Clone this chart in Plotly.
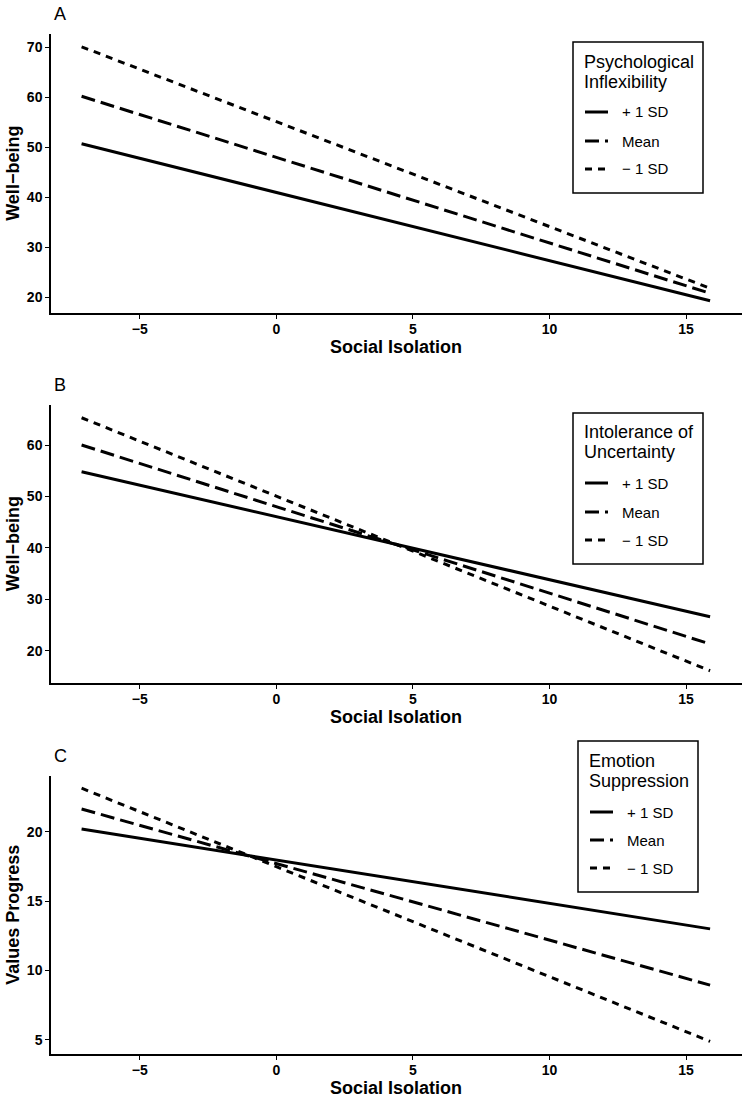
import plotly.graph_objects as go

# ---- data ----
social_isolation = [-7.13, 15.88]

a_plus = [50.7, 19.3]
a_mean = [60.2, 20.8]
a_minus = [70.1, 21.8]

b_plus = [54.8, 26.6]
b_mean = [60.0, 21.3]
b_minus = [65.3, 16.1]

c_plus = [20.19, 13.0]
c_mean = [21.63, 8.95]
c_minus = [23.13, 4.9]

series_names = ["+ 1 SD", "Mean", "\u2212 1 SD"]
panel_letters = ["A", "B", "C"]
legend_titles = [["Psychological", "Inflexibility"], ["Intolerance of", "Uncertainty"], ["Emotion", "Suppression"]]
y_titles = ["Well\u2212being", "Well\u2212being", "Values Progress"]
x_title = "Social Isolation"
x_ticks = [-5, 0, 5, 10, 15]
y_ticks = [[20, 30, 40, 50, 60, 70], [20, 30, 40, 50, 60], [5, 10, 15, 20]]

# ---- layout geometry (pixels) ----
W, H = 747, 1100
FONT = "Liberation Sans, Arial, Helvetica, sans-serif"
x_left, x_right = 51, 741.5
panels_px = [(34.3, 313.3), (405.0, 683.3), (775.7, 1054.0)]
y_ranges = [[16.8, 72.6], [13.66, 67.78], [3.99, 24.03]]
x_range = [-8.25, 17.03]

# legend boxes: (left, right, top, bottom, title line1 y, title line2 y, item ys, key x0, key x1, text x)
legend_geo = [
    (573, 703, 42, 193, 62, 82, [112, 141, 169], 585, 608, 620),
    (573, 703, 413, 564, 432, 452, [483, 512, 540], 585, 608, 620),
    (578, 698, 741, 892, 761, 781, [812, 840, 868], 590, 613, 625),
]

dashes = ["solid", "14px,6px", "7px,6px"]

fig = go.Figure()
data = [[a_plus, a_mean, a_minus], [b_plus, b_mean, b_minus], [c_plus, c_mean, c_minus]]

for p in range(3):
    sfx = "" if p == 0 else str(p + 1)
    for s in range(3):
        fig.add_trace(go.Scatter(
            x=social_isolation, y=data[p][s], mode="lines",
            name=series_names[s],
            line=dict(color="black", width=3, dash=dashes[s]),
            xaxis="x" + sfx, yaxis="y" + sfx,
            showlegend=False,
        ))

axis_common = dict(showline=True, linecolor="black", linewidth=1.5, showgrid=False,
                   zeroline=False, ticks="outside", ticklen=4, tickwidth=1, tickcolor="black",
                   tickfont=dict(family=FONT, size=14, color="black", weight="bold"))

layout = dict(width=W, height=H, margin=dict(l=0, r=0, t=0, b=0),
              paper_bgcolor="white", plot_bgcolor="white", showlegend=False,
              font=dict(family=FONT, color="black"))


def px_x(v):
    return v / W


def px_y(v):
    return 1 - v / H


annotations = []
shapes = []
for p in range(3):
    sfx = "" if p == 0 else str(p + 1)
    top, bot = panels_px[p]
    dom_y = [px_y(bot), px_y(top)]
    layout["xaxis" + sfx] = dict(axis_common, domain=[px_x(x_left), px_x(x_right)], range=x_range,
                                 tickvals=x_ticks, anchor="y" + sfx, ticklabelstandoff=-2)
    layout["yaxis" + sfx] = dict(axis_common, domain=dom_y, range=y_ranges[p],
                                 tickvals=y_ticks[p], anchor="x" + sfx)
    # panel letter
    annotations.append(dict(text=panel_letters[p], x=px_x(52), y=px_y(top - 20),
                            xref="paper", yref="paper", xanchor="left", yanchor="middle",
                            showarrow=False, font=dict(family=FONT, size=18, color="black")))
    # x title
    annotations.append(dict(text=x_title, x=px_x((x_left + x_right) / 2), y=px_y(bot + 34),
                            xref="paper", yref="paper", xanchor="center", yanchor="middle",
                            showarrow=False,
                            font=dict(family=FONT, size=18, color="black", weight="bold")))
    # y title
    annotations.append(dict(text=y_titles[p], x=px_x(13), y=px_y((top + bot) / 2),
                            xref="paper", yref="paper", xanchor="center", yanchor="middle",
                            textangle=-90, showarrow=False,
                            font=dict(family=FONT, size=18, color="black", weight="bold")))
    # legend
    lft, rgt, ltop, lbot, t1, t2, item_ys, k0, k1, tx = legend_geo[p]
    shapes.append(dict(type="rect", xref="paper", yref="paper",
                       x0=px_x(lft), x1=px_x(rgt), y0=px_y(lbot), y1=px_y(ltop),
                       line=dict(color="black", width=1.5), fillcolor="white", layer="above"))
    for ty, txt in zip([t1, t2], legend_titles[p]):
        annotations.append(dict(text=txt, x=px_x(lft + 9), y=px_y(ty), xref="paper", yref="paper",
                                xanchor="left", yanchor="middle", showarrow=False,
                                font=dict(family=FONT, size=18, color="black")))
    for s in range(3):
        shapes.append(dict(type="line", xref="paper", yref="paper",
                           x0=px_x(k0), x1=px_x(k1), y0=px_y(item_ys[s]), y1=px_y(item_ys[s]),
                           line=dict(color="black", width=3, dash=dashes[s]), layer="above"))
        annotations.append(dict(text=series_names[s], x=px_x(tx), y=px_y(item_ys[s]),
                                xref="paper", yref="paper", xanchor="left", yanchor="middle",
                                showarrow=False, font=dict(family=FONT, size=15, color="black")))

layout["annotations"] = annotations
layout["shapes"] = shapes
fig.update_layout(**layout)

fig.write_html("out.html", config={"displayModeBar": False},
               post_script="document.body.style.margin='0';document.body.style.overflow='hidden';")
